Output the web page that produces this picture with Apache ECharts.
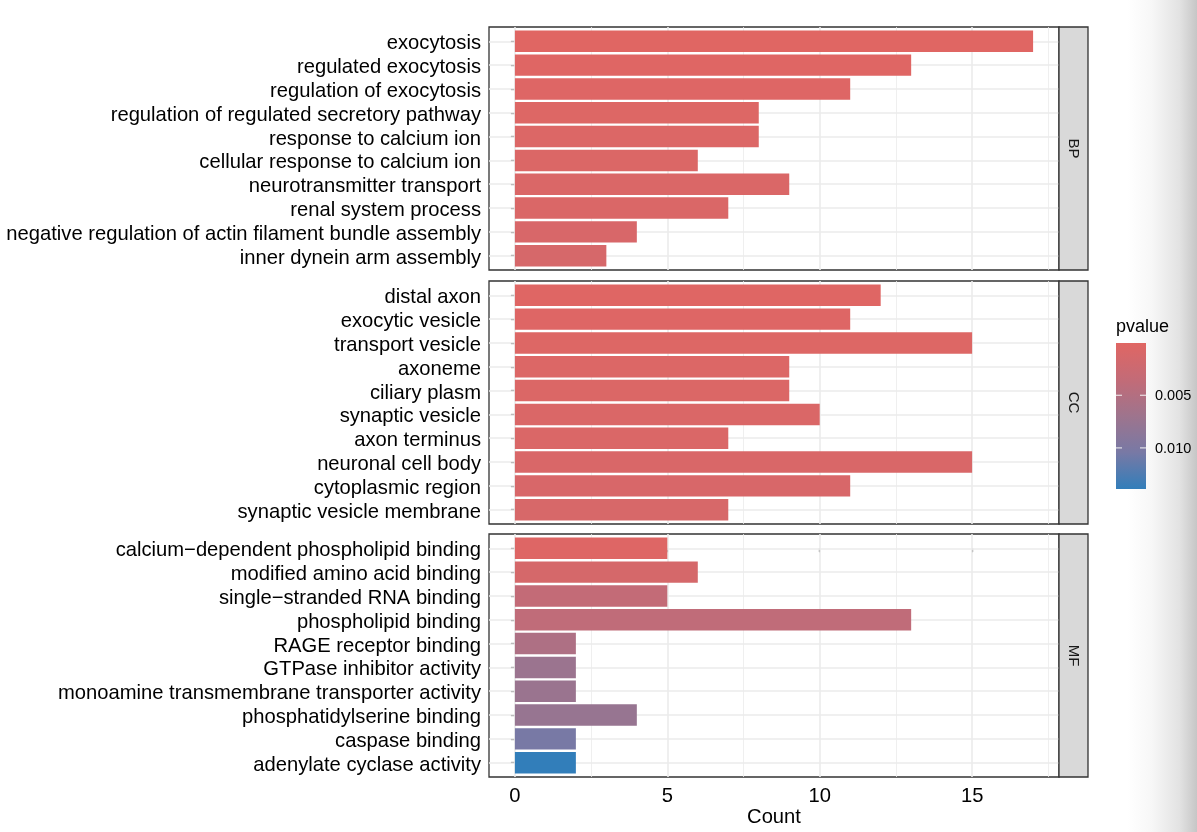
<!DOCTYPE html>
<html><head><meta charset="utf-8">
<script src="https://cdn.jsdelivr.net/npm/echarts@6/dist/echarts.min.js"></script>
<style>html,body{margin:0;padding:0;background:#fff}#c{width:1197px;height:832px}</style>
</head><body><div id="c"></div>
<script>
// ---------------- data ----------------
const panelNames = ['BP', 'CC', 'MF'];

const bpTerms = ['exocytosis', 'regulated exocytosis', 'regulation of exocytosis',
  'regulation of regulated secretory pathway', 'response to calcium ion',
  'cellular response to calcium ion', 'neurotransmitter transport', 'renal system process',
  'negative regulation of actin filament bundle assembly', 'inner dynein arm assembly'];
const bpCounts = [17, 13, 11, 8, 8, 6, 9, 7, 4, 3];
const bpPvalues = [0.00004, 0.0002, 0.0003, 0.0004, 0.0005, 0.0006, 0.0007, 0.0008, 0.0010, 0.0012];

const ccTerms = ['distal axon', 'exocytic vesicle', 'transport vesicle', 'axoneme', 'ciliary plasm',
  'synaptic vesicle', 'axon terminus', 'neuronal cell body', 'cytoplasmic region',
  'synaptic vesicle membrane'];
const ccCounts = [12, 11, 15, 9, 9, 10, 7, 15, 11, 7];
const ccPvalues = [0.0002, 0.0003, 0.0004, 0.0005, 0.0006, 0.0007, 0.0008, 0.0009, 0.0010, 0.0011];

const mfTerms = ['calcium\u2212dependent phospholipid binding', 'modified amino acid binding',
  'single\u2212stranded RNA binding', 'phospholipid binding', 'RAGE receptor binding',
  'GTPase inhibitor activity', 'monoamine transmembrane transporter activity',
  'phosphatidylserine binding', 'caspase binding', 'adenylate cyclase activity'];
const mfCounts = [5, 6, 5, 13, 2, 2, 2, 4, 2, 2];
const mfPvalues = [0.0003, 0.0013, 0.0035, 0.0038, 0.0055, 0.0072, 0.0073, 0.0076, 0.0104, 0.0139];

const xTickValues = [0, 5, 10, 15];
const xMinorValues = [2.5, 7.5, 12.5, 17.5];
const pTickValues = [0.005, 0.010];
const pTickLabels = ['0.005', '0.010'];
const xTitle = 'Count';
const legendTitle = 'pvalue';

// ---------------- layout & style ----------------
const terms = [bpTerms, ccTerms, mfTerms];
const counts = [bpCounts, ccCounts, mfCounts];
const pvals = [bpPvalues, ccPvalues, mfPvalues];
const allP = [].concat(bpPvalues, ccPvalues, mfPvalues);
const pMin = Math.min.apply(null, allP), pMax = Math.max.apply(null, allP);
const cMax = Math.max.apply(null, [].concat(bpCounts, ccCounts, mfCounts));
const xMin = -0.05 * cMax, xMax = cMax * 1.05;

const PL = 489, PW = 570, PH = 243, tops = [27, 281, 534], STRIP_W = 29;
const FONT = '"Liberation Sans", Arial, sans-serif';
const colorStops = ['#e06663', '#c36b77', '#9e748d', '#7879a5', '#327eba'];
const GRID_C = '#EBEBEB';

const grid = [], xAxis = [], yAxis = [], series = [], barSeriesIdx = [], graphics = [];

for (let i = 0; i < 3; i++) {
  const n = terms[i].length;
  const pitch = PH / (n - 1 + 1.2);
  const isBottom = i === 2;
  // frame grid
  grid.push({ left: PL, top: tops[i], width: PW, height: PH, show: true,
    borderColor: '#333333', borderWidth: 1.3, backgroundColor: 'transparent', z: 0 });
  // bar grid
  grid.push({ left: PL, top: tops[i] + 0.1 * pitch, width: PW, height: n * pitch, show: false });

  xAxis.push({
    gridIndex: 2 * i, type: 'value', min: xMin, max: xMax,
    splitLine: { show: false }, axisLine: { show: false },
    axisTick: { show: isBottom, customValues: xTickValues, length: 4, lineStyle: { color: '#333', width: 1.2 } },
    axisLabel: { show: isBottom, customValues: xTickValues, fontSize: 20.2, color: '#000', margin: 9, fontFamily: FONT },
    name: isBottom ? xTitle : '', nameLocation: 'middle', nameGap: 30,
    nameTextStyle: { fontSize: 20.2, color: '#000', fontFamily: FONT }
  });
  yAxis.push({ gridIndex: 2 * i, type: 'value', min: -0.6, max: n - 1 + 0.6, inverse: true, show: false });

  xAxis.push({ gridIndex: 2 * i + 1, type: 'value', min: xMin, max: xMax, show: false });
  yAxis.push({
    gridIndex: 2 * i + 1, type: 'category', data: terms[i], inverse: true,
    axisLine: { show: false }, splitLine: { show: false },
    axisTick: { show: true, alignWithLabel: true, interval: 0, length: 4, lineStyle: { color: '#333', width: 1.2 } },
    axisLabel: { interval: 0, margin: 8, formatter: v => '{t|' + v + '}',
      rich: { t: { fontSize: 20.2, color: '#000', fontFamily: FONT, padding: [5, 0, 0, 0] } } }
  });

  const ml = [];
  xTickValues.forEach(v => ml.push({ xAxis: v, lineStyle: { width: 1.6, color: GRID_C, type: 'solid' } }));
  xMinorValues.forEach(v => ml.push({ xAxis: v, lineStyle: { width: 0.8, color: GRID_C, type: 'solid' } }));
  terms[i].forEach((t, j) => ml.push({ yAxis: j, lineStyle: { width: 1.6, color: GRID_C, type: 'solid' } }));
  series.push({
    type: 'line', xAxisIndex: 2 * i, yAxisIndex: 2 * i, data: [], silent: true, z: 1,
    markLine: { z: 1, symbol: 'none', silent: true, label: { show: false }, animation: false, data: ml }
  });

  barSeriesIdx.push(series.length);
  series.push({
    type: 'bar', name: panelNames[i], xAxisIndex: 2 * i + 1, yAxisIndex: 2 * i + 1, z: 3,
    barWidth: '90%', encode: { x: 0, y: 1 },
    data: terms[i].map((t, j) => ({ value: [counts[i][j], t, pvals[i][j]] }))
  });

  // strip
  graphics.push({ type: 'rect', shape: { x: PL + PW, y: tops[i], width: STRIP_W, height: PH },
    style: { fill: '#D9D9D9', stroke: '#333333', lineWidth: 1.3 }, z: 5 });
  graphics.push({ type: 'text', x: PL + PW + STRIP_W / 2, y: tops[i] + PH / 2, rotation: -Math.PI / 2,
    style: { text: panelNames[i], fill: '#1A1A1A', fontSize: 15, fontFamily: FONT, align: 'center', verticalAlign: 'middle' }, z: 6 });
}

// legend (colour bar)
const CB = { x: 1116, y: 343, w: 30, h: 146 };
const pToY = p => CB.y + (p - pMin) / (pMax - pMin) * CB.h;
graphics.push({ type: 'rect', shape: { x: 1128, y: 0, width: 69, height: 832 },
  style: { fill: new echarts.graphic.LinearGradient(0, 0, 1, 0, [
    { offset: 0, color: '#ffffff' }, { offset: 0.35, color: '#f7f7f7' },
    { offset: 0.75, color: '#e2e2e2' }, { offset: 1, color: '#c6c6c6' }]) }, z: -10 });
graphics.push({ type: 'text', x: CB.x, y: CB.y - 16, style: { text: legendTitle, fill: '#000', fontSize: 18,
  fontFamily: FONT, align: 'left', verticalAlign: 'middle' }, z: 10 });
graphics.push({ type: 'rect', shape: { x: CB.x, y: CB.y, width: CB.w, height: CB.h },
  style: { fill: new echarts.graphic.LinearGradient(0, 0, 0, 1,
    colorStops.map((c, k) => ({ offset: k / (colorStops.length - 1), color: c }))) }, z: 10 });
pTickValues.forEach((p, k) => {
  const y = pToY(p);
  graphics.push({ type: 'line', shape: { x1: CB.x, y1: y, x2: CB.x + 6, y2: y }, style: { stroke: '#f4f4f4', lineWidth: 1 }, z: 11 });
  graphics.push({ type: 'line', shape: { x1: CB.x + CB.w - 6, y1: y, x2: CB.x + CB.w, y2: y }, style: { stroke: '#f4f4f4', lineWidth: 1 }, z: 11 });
  graphics.push({ type: 'text', x: CB.x + CB.w + 9, y: y + 1, style: { text: pTickLabels[k], fill: '#000', fontSize: 14.5,
    fontFamily: FONT, align: 'left', verticalAlign: 'middle' }, z: 11 });
});

const chart = echarts.init(document.getElementById('c'), null, { renderer: 'canvas' });
chart.setOption({
  backgroundColor: '#ffffff',
  animation: false,
  grid, xAxis, yAxis, series,
  visualMap: { type: 'continuous', show: false, seriesIndex: barSeriesIdx, dimension: 2,
    min: pMin, max: pMax, inRange: { color: colorStops } },
  graphic: { elements: graphics }
});
</script></body></html>
